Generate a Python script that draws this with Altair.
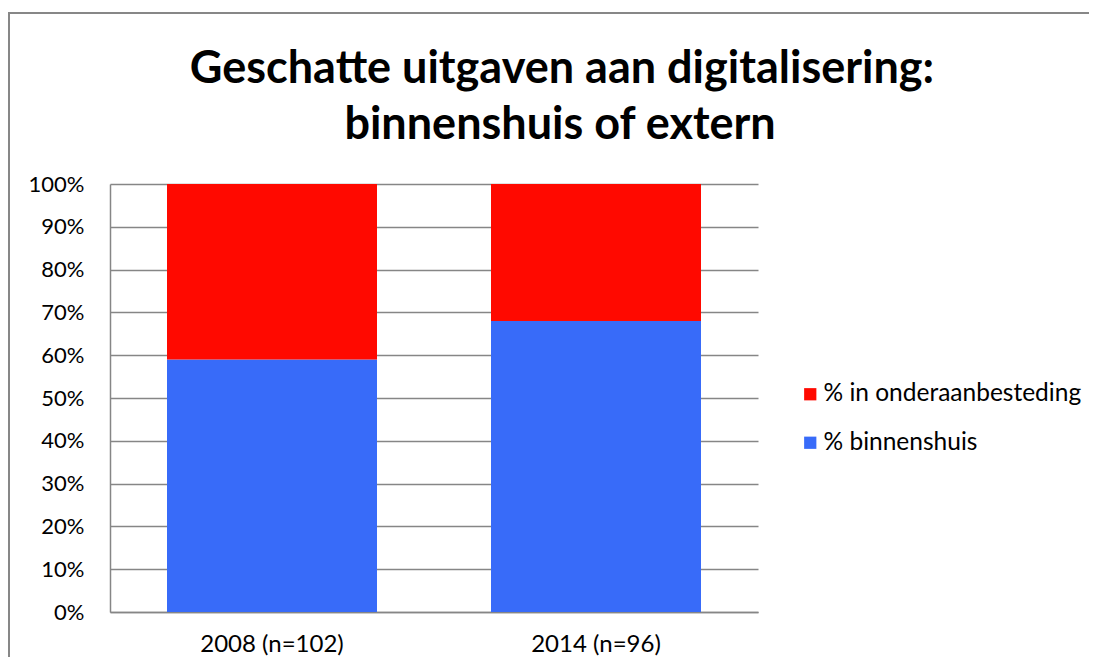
import altair as alt
import pandas as pd

categories = ["2008 (n=102)", "2014 (n=96)"]
binnenshuis = [59, 68]
onderaanbesteding = [41, 32]
series = ["% in onderaanbesteding", "% binnenshuis"]
colors = ["#FF0900", "#386BF9"]
title_lines = ["Geschatte uitgaven aan digitalisering:", "binnenshuis of extern"]

rows = []
for c, b, o in zip(categories, binnenshuis, onderaanbesteding):
    rows.append({"cat": c, "serie": series[1], "val": b / 100, "ord": 0})
    rows.append({"cat": c, "serie": series[0], "val": o / 100, "ord": 1})
df = pd.DataFrame(rows)

FONT = "Lato"
GRAY = "#868686"

bars = alt.Chart(df).mark_bar(size=210).encode(
    x=alt.X("cat:N", sort=categories, title=None,
            scale=alt.Scale(paddingInner=0.35, paddingOuter=0.175),
            axis=alt.Axis(labelAngle=0, ticks=False, domainColor=GRAY, domainWidth=1.5,
                          labelPadding=20, labelFont=FONT, labelFontSize=24,
                          labelColor="#000000")),
    y=alt.Y("val:Q", stack="zero", title=None,
            scale=alt.Scale(domain=[0, 1]),
            axis=alt.Axis(values=[i / 10 for i in range(11)], format=".0%",
                          ticks=False, domainColor=GRAY, domainWidth=1.5,
                          gridColor=GRAY, gridWidth=1.5, labelPadding=26,
                          labelFont=FONT, labelFontSize=22, labelColor="#000000")),
    color=alt.Color("serie:N", scale=alt.Scale(domain=series, range=colors),
                    legend=alt.Legend(title=None, orient="none", legendX=688, legendY=198,
                                      symbolType="square", symbolSize=150,
                                      symbolStrokeWidth=0, rowPadding=23.5,
                                      labelFont=FONT, labelFontSize=24.5, labelLimit=500,
                                      labelColor="#000000", labelOffset=1)),
    order=alt.Order("ord:Q"),
)

border = alt.Chart(pd.DataFrame({"a": [0]})).mark_rect(
    fill=None, stroke="#878787", strokeWidth=2
).encode(
    x=alt.value(-101), x2=alt.value(1300), y=alt.value(-171), y2=alt.value(900)
)

title1 = alt.Chart(pd.DataFrame({"a": [0]})).mark_text(
    font=FONT, fontSize=45, fontWeight="bold", color="#000000",
    align="center", baseline="alphabetic"
).encode(x=alt.value(452), y=alt.value(-101), text=alt.value(title_lines[0]))

title2 = alt.Chart(pd.DataFrame({"a": [0]})).mark_text(
    font=FONT, fontSize=45, fontWeight="bold", color="#000000",
    align="center", baseline="alphabetic"
).encode(x=alt.value(450), y=alt.value(-45), text=alt.value(title_lines[1]))

chart = alt.layer(border, title1, title2, bars).properties(
    width=648, height=428,
    padding={"left": 102, "top": 176, "right": 331, "bottom": 45},
    autosize=alt.AutoSizeParams(type="none"),
).configure_view(stroke=None)

chart.save("out.html", embed_options={"renderer": "svg", "actions": False})
